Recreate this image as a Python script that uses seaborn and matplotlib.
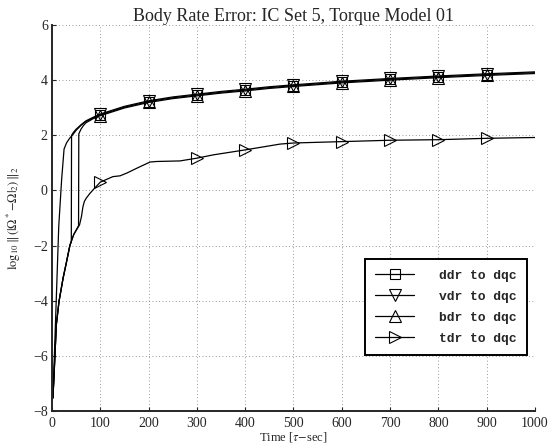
import matplotlib
matplotlib.use("Agg")
import matplotlib.pyplot as plt
import seaborn as sns
import pandas as pd

# time axis [tau-sec] and log10 error values
t_tail = [100, 150, 200, 250, 300, 350, 400, 450, 500, 600, 700, 800, 900, 1000]
y_tail = [2.74, 3.02, 3.22, 3.36, 3.46, 3.56, 3.64, 3.73, 3.80, 3.93, 4.03, 4.12, 4.20, 4.27]

t_ddr = [0, 2, 8, 14, 20, 25, 30, 36, 43, 50, 60, 70, 85] + t_tail
y_ddr = [-7.6, -7.5, -4.4, -1.3, 0.4, 1.5, 1.72, 1.88, 2.02, 2.18, 2.36, 2.5, 2.63] + y_tail

t_vdr = [0, 2, 4, 9, 14.5, 23, 30, 37, 40, 40.5, 45, 50, 60, 70, 85] + t_tail
y_vdr = [-7.6, -7.5, -6.8, -4.87, -4.03, -3.18, -2.6, -2.0, -1.85, 2.0, 2.12, 2.22, 2.38, 2.52, 2.65] + [v + 0.03 for v in y_tail]

t_bdr = [0, 2, 4, 9, 14.5, 23, 30, 37, 45, 55, 55.5, 60, 65, 70, 85] + t_tail
y_bdr = [-7.6, -7.5, -6.8, -4.87, -4.03, -3.18, -2.6, -2.0, -1.6, -1.28, 2.05, 2.22, 2.35, 2.45, 2.6] + [v - 0.03 for v in y_tail]

t_tdr = [0, 2, 4, 9, 14.5, 23, 30, 37, 45, 57, 61, 64, 67, 71, 78, 85, 100,
         126, 141, 155, 175, 203, 217, 265, 300, 334, 400, 472, 500, 600, 700, 800, 900, 1000]
y_tdr = [-7.6, -7.5, -6.8, -4.87, -4.03, -3.18, -2.6, -2.0, -1.6, -1.25, -0.95, -0.6, -0.4, -0.28, -0.12, 0.02, 0.3,
         0.5, 0.53, 0.63, 0.8, 1.03, 1.05, 1.07, 1.17, 1.29, 1.47, 1.68, 1.72, 1.77, 1.82, 1.84, 1.89, 1.92]

labels = ['ddr to dqc', 'vdr to dqc', 'bdr to dqc', 'tdr to dqc']
markers = ['s', 'v', '^', '>']
msizes = [7, 9, 9, 9]
mark_times = [100, 200, 300, 400, 500, 600, 700, 800, 900]

series = [(t_ddr, y_ddr), (t_vdr, y_vdr), (t_bdr, y_bdr), (t_tdr, y_tdr)]

sns.set_style("ticks")
plt.rcParams['font.family'] = ['Liberation Serif', 'DejaVu Serif']
plt.rcParams['mathtext.fontset'] = 'stix'
plt.rcParams['axes.unicode_minus'] = True

fig = plt.figure(figsize=(5.59, 4.48), dpi=100)
ax = fig.add_axes([0.093, 0.0826, 0.864, 0.8616])

for (ts, ys), lab, mk, ms in zip(series, labels, markers, msizes):
    df = pd.DataFrame({'t': ts, 'y': ys})
    idx = [i for i, t in enumerate(ts) if t in mark_times]
    sns.lineplot(data=df, x='t', y='y', estimator=None, sort=False, ax=ax,
                 color='black', linewidth=0.9, marker=mk, markevery=idx,
                 markersize=ms, markerfacecolor='none', markeredgecolor='black',
                 markeredgewidth=0.8, label=lab)

ax.set_xlim(0, 1000)
ax.set_ylim(-8, 6)
ax.set_xticks(range(0, 1001, 100))
ax.set_yticks(range(-8, 7, 2))
ax.grid(True, linestyle=(0, (1, 3)), color='#777777', linewidth=0.6)
sns.despine(ax=ax)
for s in ['left', 'bottom']:
    ax.spines[s].set_linewidth(1.4)
ax.tick_params(direction='in', length=3, width=0.8, labelsize=10, pad=3)
ax.tick_params(axis='x', pad=4)

ax.set_title('Body Rate Error: IC Set 5, Torque Model 01', fontsize=13, pad=3)
ax.set_xlabel(r'Time [$\tau$$-$sec]', fontsize=9, labelpad=0)
ax.set_ylabel(r'$\log_{10}\|\,(|\Omega^*\!-\!\Omega|_2)\,\|_2$', fontsize=9, labelpad=7)

leg = ax.legend(loc='lower right', bbox_to_anchor=(0.983, 0.145), borderaxespad=0,
                frameon=True, fancybox=False, framealpha=1, edgecolor='black',
                handlelength=2.95, handletextpad=1.9, borderpad=0.8, labelspacing=0.68,
                prop=dict(family='Liberation Mono', weight='bold', size=9.4))
leg.get_frame().set_linewidth(1.4)

fig.savefig('out.png', dpi=100)
